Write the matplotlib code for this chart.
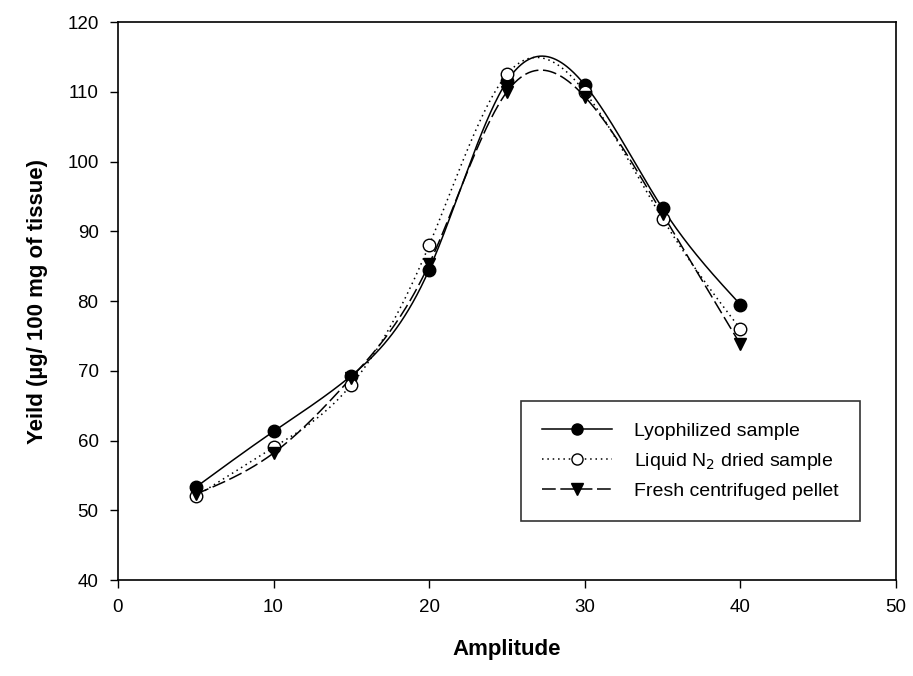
import numpy as np
import matplotlib
matplotlib.use("Agg")
import matplotlib.pyplot as plt

plt.rcParams['font.family'] = ['Liberation Sans', 'DejaVu Sans']

amplitude = [5, 10, 15, 20, 25, 30, 35, 40]
lyophilized = [53.3, 61.3, 69.3, 84.5, 111.5, 111.0, 93.3, 79.5]
liquid_n2 = [52.0, 59.0, 68.0, 88.0, 112.5, 110.0, 91.8, 76.0]
fresh_pellet = [52.3, 58.2, 69.0, 85.3, 110.0, 109.3, 92.5, 73.8]

labels = ["Lyophilized sample", "Liquid N$_2$ dried sample", "Fresh centrifuged pellet"]


def natural_spline(x, y, n=400):
    x = np.asarray(x, float)
    y = np.asarray(y, float)
    m = len(x)
    h = np.diff(x)
    A = np.zeros((m, m))
    b = np.zeros(m)
    A[0, 0] = 1
    A[-1, -1] = 1
    for i in range(1, m - 1):
        A[i, i - 1] = h[i - 1]
        A[i, i] = 2 * (h[i - 1] + h[i])
        A[i, i + 1] = h[i]
        b[i] = 3 * ((y[i + 1] - y[i]) / h[i] - (y[i] - y[i - 1]) / h[i - 1])
    c = np.linalg.solve(A, b)
    xs = np.linspace(x[0], x[-1], n)
    ys = np.empty_like(xs)
    for k, xv in enumerate(xs):
        i = min(np.searchsorted(x, xv, side='right') - 1, m - 2)
        dx = xv - x[i]
        bi = (y[i + 1] - y[i]) / h[i] - h[i] * (2 * c[i] + c[i + 1]) / 3
        di = (c[i + 1] - c[i]) / (3 * h[i])
        ys[k] = y[i] + bi * dx + c[i] * dx ** 2 + di * dx ** 3
    return xs, ys


fig = plt.figure(figsize=(9.13, 6.76), dpi=100)
ax = fig.add_axes([0.1292, 0.142, 0.8521, 0.8254])

styles = [
    dict(ls='-', marker='o', mfc='black', mec='black'),
    dict(ls=(0, (1, 2.5)), marker='o', mfc='white', mec='black'),
    dict(ls=(0, (9, 3)), marker='v', mfc='black', mec='black'),
]
series = [lyophilized, liquid_n2, fresh_pellet]

handles = []
for ys, st, lab in zip(series, styles, labels):
    xs, ss = natural_spline(amplitude, ys)
    ax.plot(xs, ss, color='black', lw=1.1, ls=st['ls'], zorder=2)
    ax.plot(amplitude, ys, ls='none', marker=st['marker'], ms=9,
            mfc=st['mfc'], mec=st['mec'], mew=1.0, zorder=3)
    h, = ax.plot([], [], color='black', lw=1.1, ls=st['ls'], marker=st['marker'],
                 ms=8, mfc=st['mfc'], mec=st['mec'], mew=1.0, label=lab)
    handles.append(h)

ax.set_xlim(0, 50)
ax.set_ylim(40, 120)
ax.set_xticks(range(0, 51, 10))
ax.set_yticks(range(40, 121, 10))
ax.tick_params(direction='out', length=6, width=1, labelsize=13.5, pad=8)
for sp in ax.spines.values():
    sp.set_linewidth(1.2)

ax.set_xlabel("Amplitude", fontsize=16, fontweight='bold', labelpad=16)
ax.set_ylabel("Yeild (µg/ 100 mg of tissue)", fontsize=16, fontweight='bold', labelpad=14)

leg = ax.legend(handles=handles, loc='upper left', bbox_to_anchor=(0.518, 0.321),
                fontsize=14, frameon=True, fancybox=False, edgecolor='black',
                handlelength=3.6, borderpad=1.1, labelspacing=0.55, handletextpad=1.1,
                borderaxespad=0)
leg.get_frame().set_linewidth(1.2)

fig.savefig("out.png", dpi=100)
